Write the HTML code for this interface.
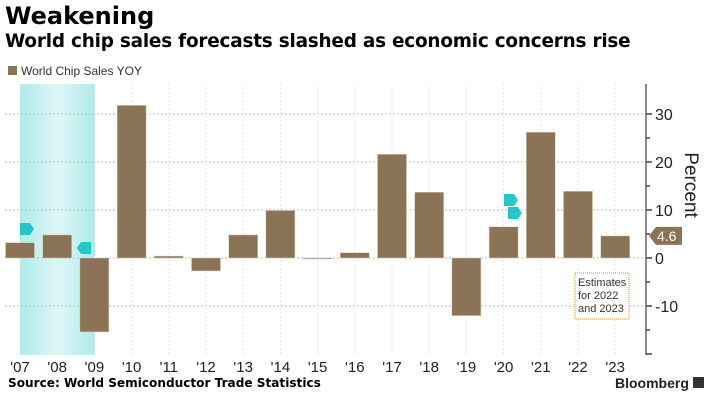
<!DOCTYPE html>
<html><head><meta charset="utf-8"><style>
body{margin:0;background:#fff;font-family:"Liberation Sans",sans-serif;}
#wrap{position:relative;width:712px;height:402px;overflow:hidden;}
.t{position:absolute;white-space:nowrap;}
</style></head><body>
<div id="wrap">
<div class="t" style="left:5px;top:2px;font-size:24px;font-weight:bold;color:#000;font-family:'DejaVu Sans',sans-serif">Weakening</div>
<div class="t" style="left:5px;top:31px;font-size:18.4px;font-weight:bold;color:#000;font-family:'DejaVu Sans',sans-serif;letter-spacing:-0.2px">World chip sales forecasts slashed as economic concerns rise</div>
<div class="t" style="left:8px;top:64px;font-size:12px;color:#333"><span style="display:inline-block;width:9px;height:9px;background:#8b7355;margin-right:4px"></span>World Chip Sales YOY</div>
<div class="t" style="left:8px;top:376px;font-size:12.1px;font-weight:bold;color:#000;font-family:'DejaVu Sans',sans-serif">Source: World Semiconductor Trade Statistics</div>
<div class="t" style="left:615px;top:375px;font-size:14px;font-weight:bold;color:#222">Bloomberg <span style="display:inline-block;width:11px;height:11px;background:#333"></span></div>
<svg id="chart" width="712" height="402" style="position:absolute;left:0;top:0"></svg>
</div>
<script>
const categories=["'07","'08","'09","'10","'11","'12","'13","'14","'15","'16","'17","'18","'19","'20","'21","'22","'23"];
const values=[3.2,4.8,-15.4,31.8,0.4,-2.7,4.8,9.9,-0.2,1.1,21.6,13.7,-12,6.5,26.2,13.9,4.6];
const yTicks=[30,20,10,0,-10];
const NS="http://www.w3.org/2000/svg";
const svg=document.getElementById('chart');
function x(i){return 20+i*37.2;}
function y(v){return 258-v*4.8;}
function mk(t,a,p){const e=document.createElementNS(NS,t);for(const k in a)e.setAttribute(k,a[k]);(p||svg).appendChild(e);return e;}
const defs=mk('defs',{});
const g=mk('linearGradient',{id:'rg'},defs);
mk('stop',{offset:'0','stop-color':'#aeeaea'},g);mk('stop',{offset:'0.5','stop-color':'#dff7f7'},g);mk('stop',{offset:'1','stop-color':'#aeeaea'},g);
const sh=mk('rect',{x:20,y:84,width:75,height:271,fill:'url(#rg)'});


yTicks.forEach(v=>{const l=mk('line',{x1:5,x2:646,y1:y(v),y2:y(v),stroke:'#bbb','stroke-dasharray':'2,2'});

});
categories.forEach((c,i)=>{const l=mk('line',{x1:x(i),x2:x(i),y1:84,y2:355,stroke:'#e4e4e4','stroke-dasharray':'2,2'});


const t=mk('text',{x:x(i),y:372,'text-anchor':'middle','font-size':15,fill:'#222','font-family':'Liberation Sans'});t.textContent=c;

});
values.forEach((v,i)=>{const r=mk('rect',{x:x(i)-14.5,width:29,y:Math.min(y(v),y(0)),height:Math.abs(y(v)-y(0)),fill:'#8b7355',stroke:'#d9cfc2','stroke-width':0.5});

});
const ax=mk('line',{x1:646,x2:646,y1:84,y2:355,stroke:'#666','stroke-width':1.5});


for(let v=30;v>=-20;v-=5){mk('line',{x1:646,x2:v%10==0?652:650,y1:y(v),y2:y(v),stroke:'#444','stroke-width':1.5});}
yTicks.forEach(v=>{const t=mk('text',{x:655,y:y(v)+6,'font-size':16,fill:'#222','font-family':'Liberation Sans'});t.textContent=v<0?'-'+(-v):v;

});
const last=values[values.length-1];
const tag=mk('path',{d:`M649 ${y(last)} L656 ${y(last)-9} L682 ${y(last)-9} L682 ${y(last)+9} L656 ${y(last)+9} Z`,fill:'#8b7355'});


const tt=mk('text',{x:657,y:y(last)+5,'font-size':14,fill:'#fff','font-family':'Liberation Sans'});tt.textContent=last;


const yt=mk('text',{x:0,y:0,'font-size':19,fill:'#222','font-family':'Liberation Sans',transform:'translate(685,185) rotate(90)','text-anchor':'middle'});yt.textContent='Percent';


const eb=mk('rect',{x:575,y:273,width:54,height:46,fill:'#fff',stroke:'#e8892b','stroke-dasharray':'1,1'});


['Estimates','for 2022','and 2023'].forEach((s,k)=>{const t=mk('text',{x:578,y:286+k*13,'font-size':11,fill:'#333','font-family':'Liberation Sans'});t.textContent=s;

});
[[20,229,1],[504,200,1],[508,213,1],[91,248,-1]].forEach(f=>{const p=mk('path',{d:f[2]>0?`M${f[0]} ${f[1]-6} h10 l4 6 l-4 6 h-10 z`:`M${f[0]} ${f[1]-6} h-10 l-4 6 l4 6 h10 z`,fill:'#22c8c8'});

});
</script>
</body></html>
